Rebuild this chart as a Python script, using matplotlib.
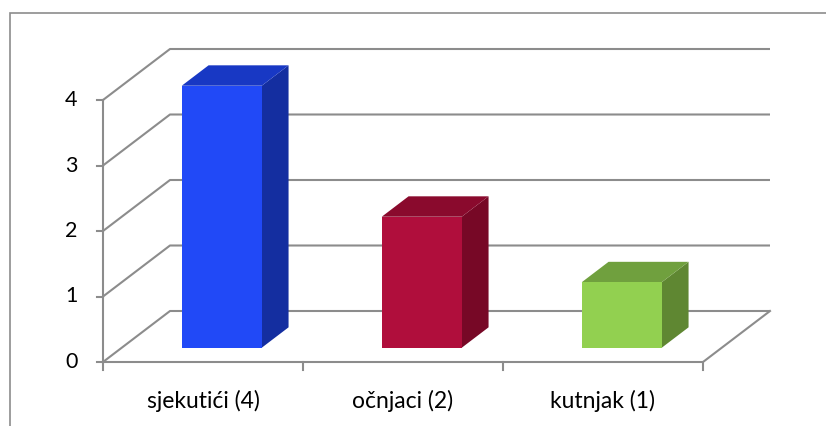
import matplotlib
matplotlib.use("Agg")
import matplotlib.pyplot as plt
from matplotlib.patches import Polygon, Rectangle

categories = ["sjekutići (4)", "očnjaci (2)", "kutnjak (1)"]
values = [4, 2, 1]
yticks = [0, 1, 2, 3, 4]
front_colors = ["#2149F7", "#B00E3C", "#92D050"]
side_colors = ["#142EA0", "#770826", "#5F8732"]
top_colors = ["#1838C4", "#8A0A2D", "#70A03E"]

W, H = 826, 426
fig = plt.figure(figsize=(W / 100, H / 100), dpi=100)
ax = fig.add_axes([0, 0, 1, 1])
ax.set_xlim(-103 / 200, (W - 103) / 200)
ax.set_ylim(-(H - 362) / 65.5, 362 / 65.5)
ax.axis("off")

# depth offsets (full depth of the floor) in data units
DX, DY = 67 / 200, 51 / 65.5
n = len(categories)
grid_c = "#8C8C8C"
lw = 1.5

def proj(x, y, f):
    return (x + DX * f, y + DY * f)

# back wall gridlines and left wall diagonals
for v in yticks:
    x0, y0 = proj(0, v, 1)
    x1, y1 = proj(n, v, 1)
    ax.plot([0, x0, x1], [v, y0, y1], color=grid_c, lw=lw, solid_capstyle="butt", zorder=1)
# front vertical axis
ax.plot([0, 0], [0, max(yticks)], color=grid_c, lw=lw, zorder=1)
# floor front and right edges
xr, yr = proj(n, 0, 1)
ax.plot([0, n, xr], [0, 0, yr], color=grid_c, lw=lw, zorder=1)
# y ticks
for v in yticks:
    ax.plot([-0.03, 0], [v, v], color=grid_c, lw=lw, zorder=1)
    ax.text(-0.128, v, str(v), ha="right", va="center", fontsize=15.5,
            family="Lato", color="#000000")
# x ticks
for i in range(n + 1):
    ax.plot([i, i], [0, -0.12], color=grid_c, lw=lw, zorder=1)
for i, c in enumerate(categories):
    ax.text(i + 0.5, -0.6, c, ha="center", va="center", fontsize=16.5,
            family="Lato", color="#000000")

# 3D bars
f0, f1 = 0.28, 0.68
bw = 0.4
for i, v in enumerate(values):
    xl = i + 0.5 - bw / 2
    xh = i + 0.5 + bw / 2
    a = proj(xl, 0, f0); b = proj(xh, 0, f0)
    c = proj(xh, v, f0); d = proj(xl, v, f0)
    b2 = proj(xh, 0, f1); c2 = proj(xh, v, f1); d2 = proj(xl, v, f1)
    ax.add_patch(Polygon([b, b2, c2, c], closed=True, fc=side_colors[i], ec="none", zorder=3))
    ax.add_patch(Polygon([d, c, c2, d2], closed=True, fc=top_colors[i], ec="none", zorder=3))
    ax.add_patch(Polygon([a, b, c, d], closed=True, fc=front_colors[i], ec="none", zorder=4))

# outer chart border
fig.add_artist(Rectangle((10 / W, -0.5), 2, 1.5 - 13 / H, transform=fig.transFigure,
                         fill=False, ec="#8C8C8C", lw=1.2))

fig.savefig("out.png", dpi=100)
